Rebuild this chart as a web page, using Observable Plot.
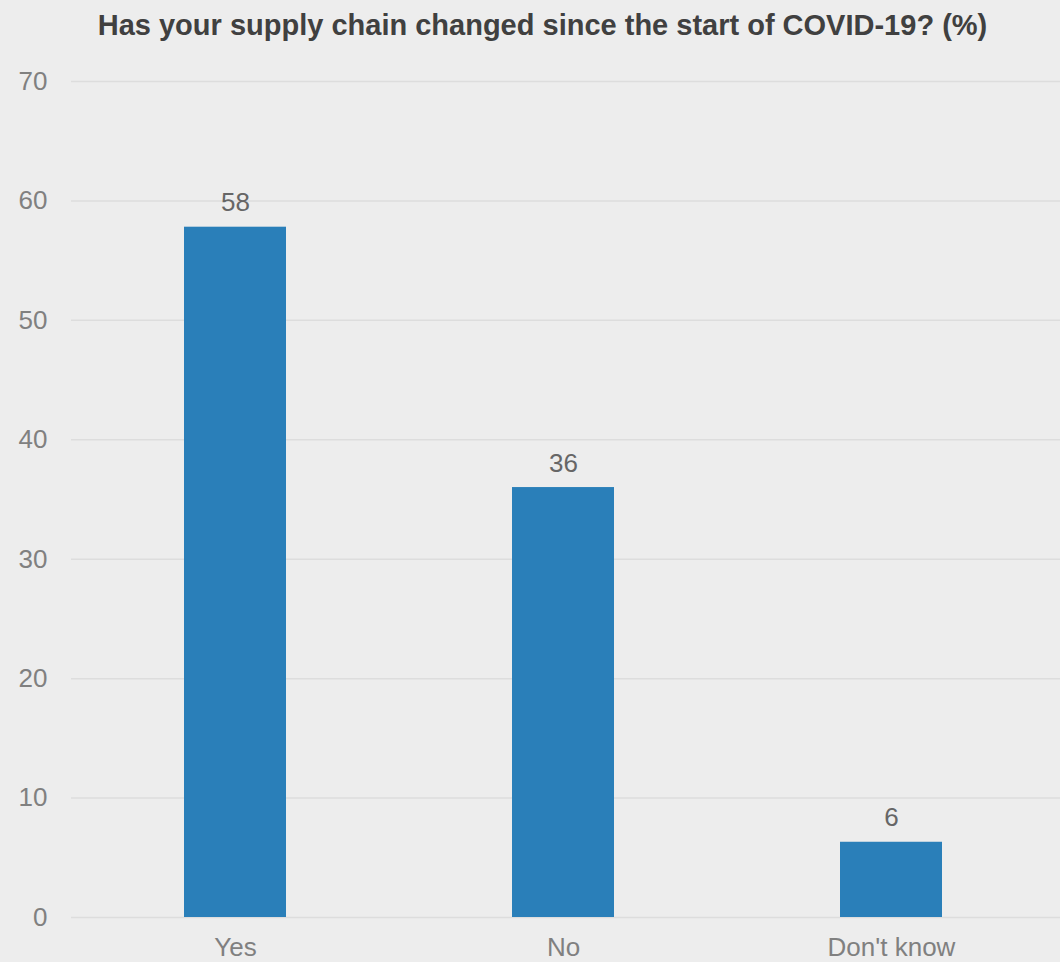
<!DOCTYPE html>
<html>
<head>
<meta charset="utf-8">
<script src="https://cdn.jsdelivr.net/npm/d3@7"></script>
<script src="https://cdn.jsdelivr.net/npm/@observablehq/plot@0.6"></script>
<style>
  html, body { margin: 0; padding: 0; background: #ededed; }
  body { width: 1060px; height: 962px; overflow: hidden; font-family: "Liberation Sans", Arial, sans-serif; }
  #title { height: 50px; line-height: 50px; text-align: center; font-weight: bold; font-size: 29px; color: #404040; padding-left: 25px; }
  svg { display: block; }
</style>
</head>
<body>
<div id="title">Has your supply chain changed since the start of COVID-19? (%)</div>
<div id="chart"></div>
<script>
const categories = ["Yes", "No", "Don't know"];
const values = [57.8, 36.0, 6.3];
const labels = ["58", "36", "6"];
const yTicks = [0, 10, 20, 30, 40, 50, 60, 70];

const data = categories.map((c, i) => ({ category: c, value: values[i], label: labels[i] }));

const chart = Plot.plot({
  width: 1060,
  height: 912,
  marginTop: 31,
  marginBottom: 45,
  marginLeft: 71,
  marginRight: 0,
  style: { background: "transparent", fontFamily: "'Liberation Sans', Arial, sans-serif", fontSize: "26px" },
  x: { domain: categories, range: [71, 1055], paddingInner: 0.69, paddingOuter: 0.345, label: null },
  y: { domain: [0, 70], ticks: yTicks, label: null },
  marks: [
    Plot.gridY(yTicks, { stroke: "#dddddd", strokeOpacity: 1, strokeWidth: 1.5 }),
    Plot.barY(data, { x: "category", y: "value", fill: "#2a7fb9" }),
    Plot.text(data, { x: "category", y: "value", text: "label", lineAnchor: "bottom", dy: -16, fill: "#666666", fontSize: 26 }),
    Plot.axisY(yTicks, { tickSize: 0, tickPadding: 24, fill: "#808080", fontSize: 26, label: null }),
    Plot.axisX({ tickSize: 0, tickPadding: 20, fill: "#808080", fontSize: 26, label: null })
  ]
});
document.getElementById("chart").appendChild(chart);
</script>
</body>
</html>
